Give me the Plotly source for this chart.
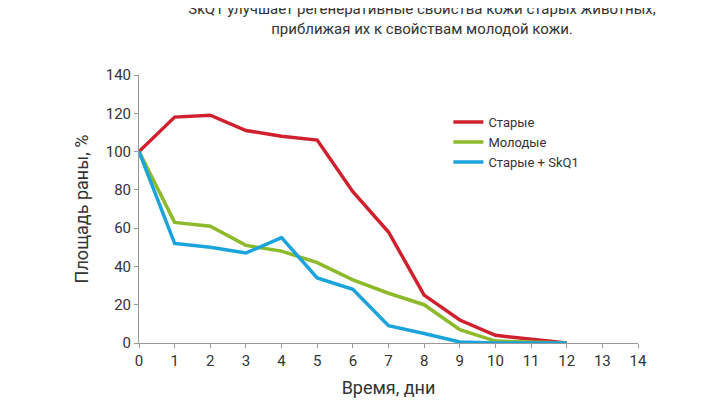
import plotly.graph_objects as go

days = list(range(13))
old = [100, 118, 119, 111, 108, 106, 79, 58, 25, 12, 4, 2, 0]
young = [100, 63, 61, 51, 48, 42, 33, 26, 20, 7, 1, 0.5, 0]
old_skq1 = [100, 52, 50, 47, 55, 34, 28, 9, 5, 0.5, 0, 0, 0]

series = [
    ("Старые", old, "#d0202e"),
    ("Молодые", young, "#8cba2a"),
    ("Старые + SkQ1", old_skq1, "#1ba3dc"),
]

fig = go.Figure()
for name, vals, color in series:
    fig.add_trace(go.Scatter(x=days, y=vals, mode="lines", name=name,
                             line=dict(color=color, width=3.5)))

fig.update_layout(
    width=720, height=405,
    margin=dict(l=131, r=90, t=67, b=70, autoexpand=False),
    plot_bgcolor="white", paper_bgcolor="white",
    font=dict(family="Roboto", size=15, color="#333"),
    title=dict(text="SkQ1 улучшает регенеративные свойства кожи старых животных,<br>приближая их к свойствам молодой кожи.",
               x=0.575, xanchor="center", y=0.985, yanchor="top",
               font=dict(size=15, color="#333")),
    legend=dict(x=0.62, y=0.88, xanchor="left", yanchor="top",
                font=dict(size=13), bgcolor="rgba(0,0,0,0)"),
    xaxis=dict(range=[0, 14], dtick=1, showgrid=False, zeroline=False,
               showline=True, linecolor="#999", ticks="outside", ticklen=4,
               tickcolor="#999", title=dict(text="Время, дни", standoff=12)),
    yaxis=dict(range=[0, 140], dtick=20, showgrid=False, zeroline=False,
               showline=True, linecolor="#999", ticks="outside", ticklen=4,
               tickcolor="#999", title=dict(text="Площадь раны, %", standoff=12)),
)

fig.write_html("out.html")
